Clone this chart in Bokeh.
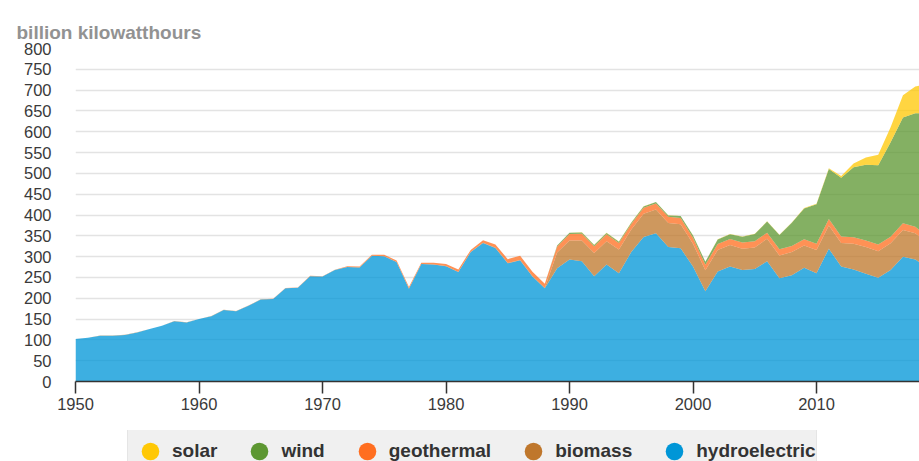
from bokeh.plotting import figure
from bokeh.layouts import column
from bokeh.models import (ColumnDataSource, Range1d, SingleIntervalTicker, FixedTicker,
                          LinearAxis, Legend, LegendItem, Title)
from bokeh.embed import file_html
from bokeh.resources import INLINE

years = list(range(1950, 2020))

hydroelectric = [102, 105, 110, 110, 112, 118, 126, 134, 145, 142,
                 150, 157, 172, 169, 182, 197, 198, 224, 225, 253,
                 252, 268, 275, 274, 302, 301, 287, 223, 282, 281,
                 277, 263, 311, 333, 321, 284, 291, 252, 224, 272,
                 293, 289, 253, 281, 260, 311, 347, 356, 323, 320,
                 276, 217, 264, 276, 268, 270, 289, 248, 255, 273,
                 260, 319, 276, 269, 259, 249, 268, 300, 293, 274]

biomass = [0.4, 0.4, 0.4, 0.4, 0.3, 0.3, 0.3, 0.2, 0.2, 0.2,
           0.1, 0.1, 0.1, 0.2, 0.2, 0.3, 0.3, 0.3, 0.3, 0.3,
           0.2, 0.2, 0.2, 0.2, 0.2, 0.2, 0.2, 0.2, 0.2, 0.3,
           0.3, 0.3, 0.3, 0.4, 0.5, 0.6, 0.7, 0.7, 0.8, 38,
           46, 50, 56, 56, 57, 54, 56, 57, 58, 58,
           55, 50, 52, 52, 51, 52, 54, 55, 56, 54,
           56, 56, 57, 62, 64, 64, 64, 64, 63, 58]

geothermal = [0, 0, 0, 0, 0, 0, 0, 0, 0, 0,
              0.03, 0.1, 0.1, 0.2, 0.2, 0.2, 0.2, 0.3, 0.4, 0.6,
              0.5, 0.5, 1.5, 2.0, 2.5, 3.2, 3.6, 3.6, 3.0, 3.9,
              5.1, 5.7, 4.8, 6.1, 7.7, 9.3, 10.3, 10.8, 10.3, 14.6,
              15.4, 16.0, 16.1, 16.8, 15.5, 13.4, 14.3, 14.7, 14.8, 14.8,
              14.1, 13.7, 14.5, 14.4, 14.8, 14.7, 14.6, 14.6, 14.8, 15.0,
              15.2, 15.3, 15.6, 15.8, 15.9, 15.9, 15.8, 15.9, 16.0, 15.5]

wind = [0, 0, 0, 0, 0, 0, 0, 0, 0, 0,
        0, 0, 0, 0, 0, 0, 0, 0, 0, 0,
        0, 0, 0, 0, 0, 0, 0, 0, 0, 0,
        0, 0, 0, 0.003, 0.006, 0.006, 0.004, 0.004, 0.0, 2.1,
        2.8, 2.9, 2.9, 3.0, 3.4, 3.2, 3.2, 3.3, 3.0, 4.5,
        5.6, 6.7, 10.4, 11.2, 14.1, 17.8, 26.6, 34.5, 55.4, 73.9,
        94.7, 120.2, 140.8, 167.8, 181.7, 190.7, 226.9, 254.3, 272.7, 295.9]

solar = [0, 0, 0, 0, 0, 0, 0, 0, 0, 0,
         0, 0, 0, 0, 0, 0, 0, 0, 0, 0,
         0, 0, 0, 0, 0, 0, 0, 0, 0, 0,
         0, 0, 0, 0, 0.003, 0.01, 0.02, 0.01, 0.01, 0.3,
         0.4, 0.5, 0.4, 0.5, 0.5, 0.5, 0.5, 0.5, 0.5, 0.5,
         0.5, 0.5, 0.6, 0.5, 0.6, 0.6, 0.5, 0.6, 0.9, 0.9,
         1.2, 1.8, 4.3, 9.0, 17.7, 24.9, 36.1, 53.3, 63.8, 72.2]

stack_order = ["hydroelectric", "biomass", "geothermal", "wind", "solar"]
stack_colors = ["#0096d7", "#bf772c", "#ff6e20", "#5d9732", "#ffc805"]

legend_names = ["solar", "wind", "geothermal", "biomass", "hydroelectric"]
legend_colors = ["#ffc805", "#5d9732", "#ff6e20", "#bf772c", "#0096d7"]

source = ColumnDataSource(dict(year=years, hydroelectric=hydroelectric, biomass=biomass,
                               geothermal=geothermal, wind=wind, solar=solar))

FONT = "Liberation Sans"

p = figure(width=919, height=430, output_backend="svg", toolbar_location=None,
           x_range=Range1d(1950, 2018.34), y_range=Range1d(0, 800),
           min_border_left=75, min_border_right=0, min_border_top=48, min_border_bottom=49)
p.outline_line_color = None
p.background_fill_color = "white"
p.border_fill_color = "white"

p.title = Title(text="billion kilowatthours", align="left", offset=-59,
                text_font=FONT, text_font_size="19px", text_font_style="bold",
                text_color="#929292", standoff=12)

# invisible spacer between the title and the plot area
spacer = LinearAxis(ticker=FixedTicker(ticks=[]), axis_line_color=None,
                    major_tick_line_color=None, minor_tick_line_color=None,
                    major_tick_in=0, major_tick_out=12, minor_tick_in=0, minor_tick_out=0,
                    major_label_standoff=0, axis_label_standoff=0)
p.add_layout(spacer, "above")

p.varea_stack(stack_order, x="year", fill_color=stack_colors, fill_alpha=0.76, source=source)

p.xgrid.visible = False
p.ygrid.grid_line_color = "#e3e3e3"
p.ygrid.grid_line_width = 1.5

p.yaxis.ticker = SingleIntervalTicker(interval=50, num_minor_ticks=0)
p.yaxis.axis_line_color = None
p.yaxis.major_tick_line_color = None
p.yaxis.minor_tick_line_color = None
p.yaxis.major_tick_in = 0
p.yaxis.major_tick_out = 0
p.yaxis.major_label_standoff = 24
p.yaxis.major_label_text_font = FONT
p.yaxis.major_label_text_font_size = "16.5px"
p.yaxis.major_label_text_color = "#3a3a3a"

xax = p.below[0]
xax.ticker = SingleIntervalTicker(interval=10, num_minor_ticks=0)
xax.axis_line_color = "#333333"
xax.axis_line_width = 1.5
xax.major_tick_line_color = "#333333"
xax.major_tick_line_width = 1.5
xax.minor_tick_line_color = None
xax.major_tick_in = 0
xax.major_tick_out = 12
xax.major_label_standoff = 4
xax.major_label_text_font = FONT
xax.major_label_text_font_size = "16.5px"
xax.major_label_text_color = "#3a3a3a"

# legend strip below the chart (the reference shows only its upper part)
q = figure(width=919, height=31, output_backend="svg", toolbar_location=None,
           x_range=Range1d(0, 1), y_range=Range1d(0, 1),
           x_axis_location=None, y_axis_location=None,
           min_border_left=0, min_border_right=0, min_border_top=0, min_border_bottom=0)
q.outline_line_color = None
q.xgrid.visible = False
q.ygrid.visible = False
q.background_fill_color = "white"
q.border_fill_color = "white"

items = []
for name, col in zip(legend_names, legend_colors):
    # legend swatch renderer: a single point placed outside the visible range
    r = q.scatter(x=[-10], y=[-10], marker="circle", size=10, fill_color=col, line_color=None)
    items.append(LegendItem(label=name, renderers=[r]))

legend = Legend(items=items, orientation="horizontal", location=(52, -13),
                glyph_width=44, glyph_height=44, label_standoff=0, spacing=20,
                padding=0, margin=0,
                label_text_font=FONT, label_text_font_style="bold",
                label_text_font_size="19px", label_text_color="#333333",
                background_fill_color="#f0f0f0", background_fill_alpha=1.0,
                border_line_color="#d9d9d9", border_line_width=1)
q.add_layout(legend)

layout = column(p, q, spacing=0)

open("out.html", "w").write(file_html(layout, INLINE))
